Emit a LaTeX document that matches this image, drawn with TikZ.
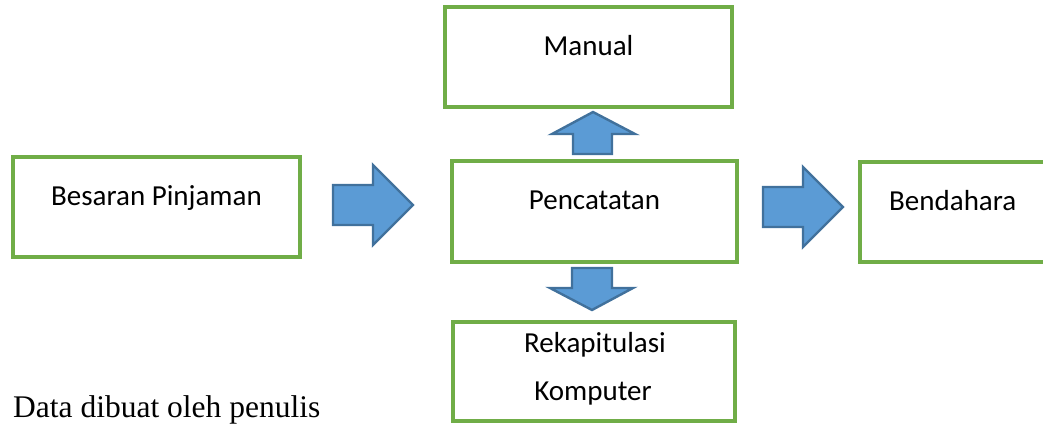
\documentclass[tikz,border=0pt]{standalone}
\usepackage{fontspec}
\setmainfont{Liberation Serif}
\newfontfamily\carl{Carlito}
\definecolor{boxgreen}{HTML}{70AD47}
\definecolor{arrfill}{HTML}{5B9BD5}
\definecolor{arrline}{HTML}{41719C}
\begin{document}
\begin{tikzpicture}[x=1pt,y=-1pt,
  gbox/.style={draw=boxgreen,line width=3.2pt},
  blockarrow/.style={fill=arrfill,draw=arrline,line width=2.4pt,line join=miter},
  lbl/.style={font=\carl\fontsize{29}{35}\selectfont,anchor=base,inner sep=0pt},
  captiontext/.style={font=\fontsize{31.5}{38}\selectfont,anchor=base west,inner sep=0pt}]
\useasboundingbox (0,0) rectangle (1043,425);
\clip (0,0) rectangle (1043,425);
% boxes
\draw[gbox] (13,157) rectangle (300,257);
\draw[gbox] (445,7) rectangle (732,107);
\draw[gbox] (452,161) rectangle (737,262);
\draw[gbox] (453,322) rectangle (735,421);
\draw[gbox] (860,162) rectangle (1060,262);
% texts
\node[lbl] (besaran) at (156.5,205) {Besaran Pinjaman};
\node[lbl] (manual) at (588.5,56) {Manual};
\node[lbl] (pencatatan) at (594.5,209) {Pencatatan};
\node[lbl] (rekap1) at (595,352) {Rekapitulasi};
\node[lbl] (rekap2) at (593,400) {Komputer};
\node[lbl,anchor=base west] (bendahara) at (889,210) {Bendahara};
\node[captiontext] (caption) at (13,417) {Data dibuat oleh penulis};
% block arrows
\draw[blockarrow] (333,185) -- (373,185) -- (373,165) -- (413,205) -- (373,245) -- (373,225) -- (333,225) -- cycle;
\draw[blockarrow] (763,187) -- (803,187) -- (803,167) -- (843,207) -- (803,247) -- (803,227) -- (763,227) -- cycle;
\draw[blockarrow] (573,154) -- (573,134) -- (552,134) -- (593,112) -- (635,134) -- (612,134) -- (612,154) -- cycle;
\draw[blockarrow] (572,268) -- (572,288) -- (550,288) -- (592,310) -- (633,288) -- (612,288) -- (612,268) -- cycle;
\end{tikzpicture}
\end{document}
